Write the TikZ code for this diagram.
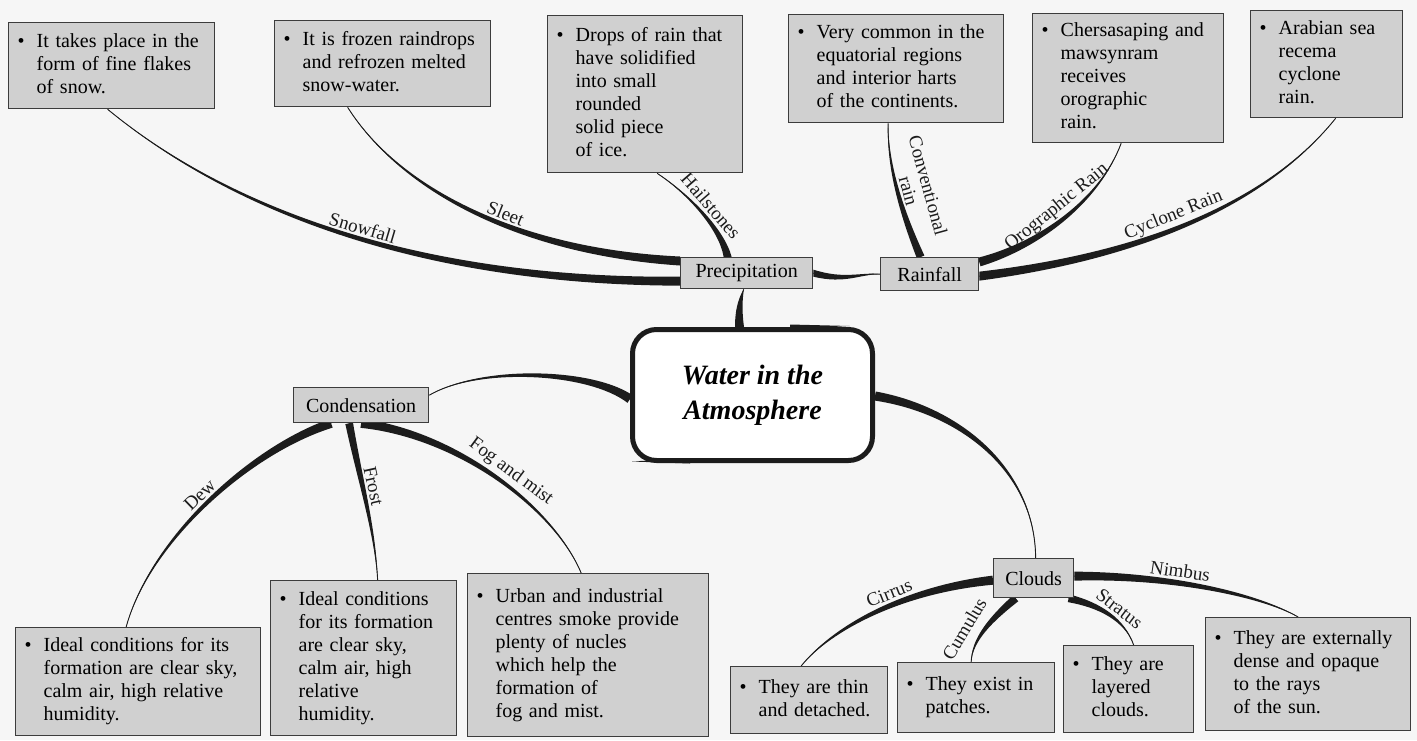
\documentclass[tikz,border=0pt]{standalone}
\usepackage{fontspec}
\setmainfont{Liberation Serif}
\usetikzlibrary{calc}
\pgfdeclarelayer{bg}
\pgfdeclarelayer{lines}
\pgfsetlayers{bg,lines,main}
\definecolor{pagebg}{RGB}{246,246,246}
\definecolor{boxfill}{RGB}{208,208,208}
\definecolor{boxline}{RGB}{60,60,60}
\definecolor{ink}{RGB}{28,28,28}
\newcommand{\blt}[1]{\begin{tabular}[t]{@{}l@{\hspace{12pt}}l@{}}\textbullet&\begin{tabular}[t]{@{}l@{}}#1\end{tabular}\end{tabular}}
\newcommand{\conn}[6]{%
  \fill[lnk] ($(#1)+(#5)$) .. controls ($(#2)+0.667*(#5)$) and ($(#3)+0.333*(#5)$) .. (#4)
     .. controls ($(#3)-0.333*(#5)$) and ($(#2)-0.667*(#5)$) .. ($(#1)-(#5)$) -- cycle;
  \draw[ink, line width=0.9pt] (#1) .. controls (#2) and (#3) .. (#4) #6;}
\tikzset{
  leafbox/.style={draw=boxline, fill=boxfill, line width=1.3pt, anchor=north west,
    inner xsep=9pt, inner ysep=3pt, align=left, font=\fontsize{20}{23}\selectfont},
  hubbox/.style={draw=boxline, fill=boxfill, line width=1.3pt, anchor=north west,
    inner sep=0pt, font=\fontsize{20}{23}\selectfont},
  lab/.style={sloped, font=\fontsize{19}{21}\selectfont, inner sep=1pt, text=ink},
  lnk/.style={fill=ink, draw=none},
}
\begin{document}
\begin{tikzpicture}[x=1pt, y=-1pt]
\begin{pgfonlayer}{bg}
\fill[pagebg] (0,0) rectangle (1417,740);
\end{pgfonlayer}
\useasboundingbox (0,0) rectangle (1417,740);

% top leaf boxes
\node[leafbox, text width=188pt, minimum height=86pt] (snow) at (8,22) {\blt{It takes place in the\\form of fine flakes\\of snow.}};
\node[leafbox, text width=198pt, minimum height=86pt] (sleet) at (274,20) {\blt{It is frozen raindrops\\and refrozen melted\\snow-water.}};
\node[leafbox, text width=177pt, minimum height=157pt] (hail) at (547,15) {\blt{Drops of rain that\\have solidified\\into small\\rounded\\solid piece\\of ice.}};
\node[leafbox, text width=197pt, minimum height=108pt] (conv) at (788,14) {\blt{Very common in the\\equatorial regions\\and interior harts\\of the continents.}};
\node[leafbox, text width=173pt, minimum height=129pt] (oro) at (1032,13) {\blt{Chersasaping and\\mawsynram\\receives\\orographic\\rain.}};
\node[leafbox, text width=134pt, minimum height=107pt] (cyc) at (1250,10) {\blt{Arabian sea\\recema\\cyclone\\rain.}};

% hub boxes
\node[hubbox, minimum width=132pt, minimum height=31pt] (prec) at (680,257) {Precipitation};
\node[hubbox, minimum width=98pt, minimum height=33pt] (rain) at (880,257) {Rainfall};
\node[hubbox, minimum width=135pt, minimum height=35pt] (cond) at (293,387) {Condensation};
\node[hubbox, minimum width=80pt, minimum height=39pt] (clouds) at (993,558) {Clouds};

% centre
\node[draw=ink, line width=5pt, fill=white, rounded corners=24pt, anchor=north west,
  minimum width=240pt, minimum height=131pt, align=center,
  font=\fontsize{28}{35}\selectfont\bfseries\itshape] (ctr) at (630,327) {Water in the\\Atmosphere};
\fill[ink] (790,324.5) -- (850,326) -- (790,329.5) -- cycle;
\fill[ink] (690,458) -- (632,461.5) -- (690,463.5) -- cycle;

% bottom leaf boxes
\node[leafbox, text width=227pt, minimum height=108pt] (dew) at (15,627) {\blt{Ideal conditions for its\\formation are clear sky,\\calm air, high relative\\humidity.}};
\node[leafbox, text width=168pt, minimum height=155pt] (frost) at (270,580) {\blt{Ideal conditions\\for its formation\\are clear sky,\\calm air, high\\relative\\humidity.}};
\node[leafbox, text width=223pt, minimum height=163pt] (fog) at (467,573) {\blt{Urban and industrial\\centres smoke provide\\plenty of nucles\\which help the\\formation of\\fog and mist.}};
\node[leafbox, text width=139pt, minimum height=67pt] (cirrus) at (730,666) {\blt{They are thin\\and detached.}};
\node[leafbox, text width=139pt, minimum height=70pt] (cumulus) at (897,662) {\blt{They exist in\\patches.}};
\node[leafbox, text width=112pt, minimum height=87pt] (stratus) at (1063,645) {\blt{They are\\layered\\clouds.}};
\node[leafbox, text width=187pt, minimum height=113pt] (nimbus) at (1205,617) {\blt{They are externally\\dense and opaque\\to the rays\\of the sun.}};

% connector end points
\coordinate (hSnow) at ([yshift=-8pt]prec.west);
\coordinate (hSleet) at ([yshift=-4pt]prec.north west);
\coordinate (hHail) at ([xshift=-19pt]prec.north);
\coordinate (hConv) at ([xshift=-9pt]rain.north);
\coordinate (hOro) at ([yshift=-5pt]rain.north east);
\coordinate (hCyc) at ([yshift=-2pt]rain.east);
\coordinate (hCtrTop) at ([xshift=-13pt]ctr.north);
\coordinate (lPrecBot) at ([xshift=-3pt]prec.south);
\coordinate (hCtrL) at ([yshift=-4pt]ctr.west);
\coordinate (lCondE) at ([yshift=10pt]cond.east);
\coordinate (hCtrR) at ([yshift=-1pt]ctr.east);
\coordinate (lCloudsN) at ([xshift=2pt]clouds.north);
\coordinate (hDew) at ([xshift=-30pt]cond.south);
\coordinate (hFrost) at ([xshift=-12pt]cond.south);
\coordinate (hFog) at (cond.south);
\coordinate (hCirrus) at ([yshift=-2pt]clouds.west);
\coordinate (hCumulus) at ([xshift=-18pt]clouds.south);
\coordinate (hStratus) at ([xshift=35pt]clouds.south);
\coordinate (hNimbus) at ([yshift=2pt]clouds.east);
\coordinate (lSnow) at ([xshift=-4pt]snow.south);
\coordinate (lSleet) at ([xshift=-35pt]sleet.south);
\coordinate (lHail) at ([xshift=12pt]hail.south);
\coordinate (lConv) at ([xshift=-8pt]conv.south);
\coordinate (lOro) at ([xshift=-7pt]oro.south);
\coordinate (lCyc) at ([xshift=9pt]cyc.south);
\coordinate (lDew) at ([xshift=-12pt]dew.north);
\coordinate (lFrost) at ([xshift=14pt]frost.north);
\coordinate (lFog) at ([xshift=-7pt]fog.north);
\coordinate (lCirrus) at ([xshift=-8pt]cirrus.north);
\coordinate (lCumulus) at ([xshift=-5pt]cumulus.north);
\coordinate (lStratus) at ([xshift=5pt]stratus.north);
\coordinate (lNimbus) at ([xshift=-10pt]nimbus.north);

\begin{pgfonlayer}{lines}
\conn{hSnow}{420,282}{230,210}{lSnow}{0,4.5}{node[lab, pos=.47, above=3pt]{Snowfall}}
\conn{hSleet}{520,252}{400,190}{lSleet}{0,4.5}{node[lab, pos=.42, above=3pt]{Sleet}}
\conn{hHail}{722,230}{690,195}{lHail}{4,0}{node[lab, pos=.5, above=3pt]{Hailstones}}
\conn{prec.east}{845,282}{860,273}{rain.west}{0,3.5}{}
\conn{hConv}{905,220}{887,170}{lConv}{3.7,-1.5}{node[lab, pos=.5, above=3pt, align=center, font=\fontsize{19}{20}\selectfont]{Conventional\\rain}}
\conn{hOro}{1040,245}{1100,200}{lOro}{1.2,4.3}{node[lab, pos=.5, above=3pt]{Orographic Rain}}
\conn{hCyc}{1150,255}{1270,200}{lCyc}{0,4.5}{node[lab, pos=.45, above=3pt]{Cyclone Rain}}
\conn{hCtrTop}{738,305}{742,295}{lPrecBot}{4.5,0}{}
\conn{hCtrL}{590,370}{480,366}{lCondE}{2.5,-3.8}{}
\conn{hCtrR}{960,410}{1035,470}{lCloudsN}{-0.8,4.5}{}
\conn{hDew}{250,450}{150,540}{lDew}{1.5,4.3}{node[lab, pos=.5, above=3pt]{Dew}}
\conn{hFrost}{360,480}{375,530}{lFrost}{3.8,-0.8}{node[lab, pos=.4, above=3pt]{Frost}}
\conn{hFog}{460,435}{555,510}{lFog}{-0.7,4.5}{node[lab, pos=.52, above=3pt]{Fog and mist}}
\conn{hCirrus}{900,590}{830,630}{lCirrus}{0.6,4.5}{node[lab, pos=.4, above=4pt]{Cirrus}}
\conn{hCumulus}{990,620}{972,640}{lCumulus}{2.7,2.9}{node[lab, pos=.62, above=9pt]{Cumulus}}
\conn{hStratus}{1100,605}{1125,620}{lStratus}{-0.9,3.8}{node[lab, pos=.55, above=3pt]{Stratus}}
\conn{hNimbus}{1170,575}{1260,595}{lNimbus}{0,4.5}{node[lab, pos=.38, above=4pt]{Nimbus}}
\end{pgfonlayer}
\end{tikzpicture}
\end{document}
